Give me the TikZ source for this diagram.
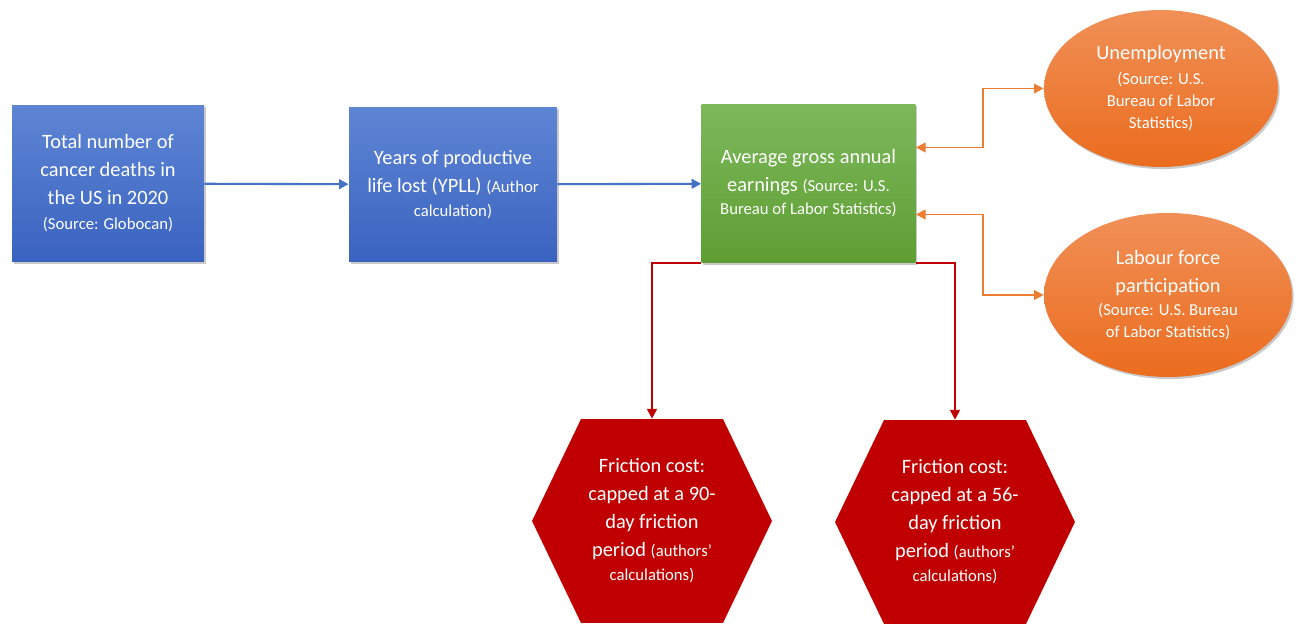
\documentclass[tikz,border=0pt]{standalone}
\usepackage{fontspec}
\setmainfont{Carlito}
\usetikzlibrary{positioning,arrows.meta,shadows,shapes.geometric}

\definecolor{bluetop}{HTML}{5E85D4}
\definecolor{bluebot}{HTML}{3A63C0}
\definecolor{greentop}{HTML}{7DB85B}
\definecolor{greenbot}{HTML}{5E9E33}
\definecolor{orangetop}{HTML}{F09057}
\definecolor{orangebot}{HTML}{EB6C1E}
\definecolor{fricred}{HTML}{C00000}
\definecolor{bluearrow}{HTML}{4472C4}
\definecolor{orangearrow}{HTML}{ED7D31}

\newcommand{\mainsize}{\fontsize{11.6}{15.9}\selectfont}
\newcommand{\srcsize}{\fontsize{9.5}{12.5}\selectfont}

\tikzset{
  softshadow/.style={drop shadow={shadow xshift=1pt,shadow yshift=-1.2pt,opacity=.3,fill=black!70}},
  box/.style={text=white, align=center, font=\mainsize, inner sep=0pt, softshadow},
  bluebox/.style={box, top color=bluetop, bottom color=bluebot},
  greenbox/.style={box, top color=greentop, bottom color=greenbot},
  oval/.style={ellipse, box, top color=orangetop, bottom color=orangebot},
  hexbox/.style={text=white, align=center, font=\mainsize, inner sep=0pt,
    minimum width=4.8cm, minimum height=4.08cm,
    path picture={
      \fill[fricred] (path picture bounding box.west)
        -- ([xshift=.98cm]path picture bounding box.north west)
        -- ([xshift=-.98cm]path picture bounding box.north east)
        -- (path picture bounding box.east)
        -- ([xshift=-.98cm]path picture bounding box.south east)
        -- ([xshift=.98cm]path picture bounding box.south west) -- cycle;}},
  tip/.style={-{Triangle[length=5.5pt,width=5.5pt]}},
  bluelink/.style={tip, draw=bluearrow, line width=1.2pt},
  orangelink/.style={{Triangle[length=5.5pt,width=5.5pt]}-{Triangle[length=5.5pt,width=5.5pt]}, draw=orangearrow, line width=1pt},
  redlink/.style={tip, draw=fricred, line width=1.2pt}
}

\begin{document}
\begin{tikzpicture}[x=0.02cm,y=0.02cm]
  \useasboundingbox (0,0) rectangle (1296,625);

  % boxes
  \node[bluebox, minimum width=3.84cm, minimum height=3.14cm] (deaths) at (108,441.5)
    {Total number of\\cancer deaths in\\the US in 2020\\[-1.5pt]{\srcsize (Source: Globocan)}};
  \node[bluebox, minimum width=4.16cm, minimum height=3.1cm] (ypll) at (453,440.5)
    {Years of productive\\life lost (YPLL) {\srcsize (Author}\\[-2.6pt]{\srcsize calculation)}};
  \node[greenbox, minimum width=4.28cm, minimum height=3.18cm] (earn) at (808.5,441.5)
    {Average gross annual\\earnings {\srcsize (Source: U.S.}\\[-2.8pt]{\srcsize Bureau of Labor Statistics)}};

  % ellipses
  \node[oval, minimum width=4.68cm, minimum height=3.14cm] (unemp) at (1161,536.5)
    {Unemployment\\[-1.7pt]{\srcsize (Source: U.S.}\\[-3.4pt]{\srcsize Bureau of Labor}\\[-3.4pt]{\srcsize Statistics)}};
  \node[oval, minimum width=4.96cm, minimum height=3.28cm] (labour) at (1168,330)
    {Labour force\\participation\\[-2.8pt]{\srcsize (Source: U.S. Bureau}\\[-3.4pt]{\srcsize of Labor Statistics)}};

  % hexagons
  \node[hexbox] (fric90) at (652,104)
    {Friction cost:\\capped at a 90-\\day friction\\period {\srcsize (authors’}\\[-2.2pt]{\srcsize calculations)}};
  \node[hexbox] (fric56) at (955,103)
    {Friction cost:\\capped at a 56-\\day friction\\period {\srcsize (authors’}\\[-2.2pt]{\srcsize calculations)}};

  % links
  \draw[bluelink] (deaths) -- (ypll);
  \draw[bluelink] (ypll) -- (earn);
  \draw[orangelink] ([yshift=.72cm]earn.east) -- ++(67,0) |- (unemp.west);
  \draw[orangelink] ([yshift=-.62cm]earn.east) -- ++(67,0) |- (labour.west);
  \draw[redlink] (earn.south west) -| (fric90.north);
  \draw[redlink] (earn.south east) -| (fric56.north);
\end{tikzpicture}
\end{document}
